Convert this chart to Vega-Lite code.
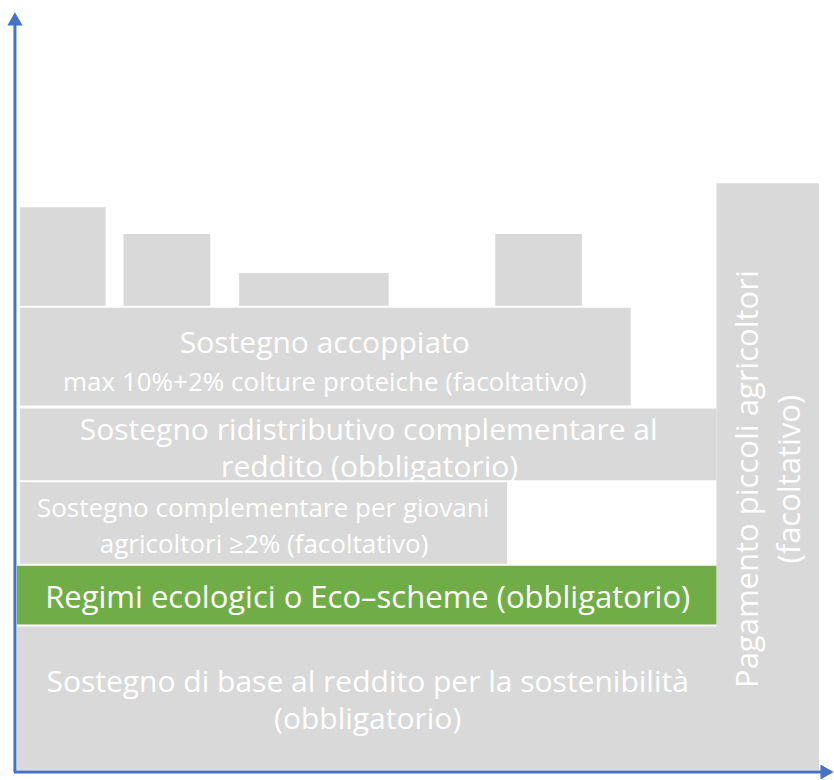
{
  "$schema": "https://vega.github.io/schema/vega-lite/v6.json",
  "width": 834,
  "height": 780,
  "padding": 0,
  "autosize": {"type": "fit", "contains": "padding"},
  "background": "white",
  "config": {"view": {"stroke": null}},
  "datasets": {
    "blocks": [
      {"name": "Barra 1", "x": 6, "x2": 92, "y": 468, "y2": 567, "kind": "grigio", "tier": 1},
      {"name": "Barra 2", "x": 110, "x2": 197, "y": 468, "y2": 540, "kind": "grigio", "tier": 1},
      {"name": "Barra 3", "x": 226, "x2": 376, "y": 468, "y2": 501, "kind": "grigio", "tier": 1},
      {"name": "Barra 4", "x": 483, "x2": 570, "y": 468, "y2": 540, "kind": "grigio", "tier": 1},
      {"name": "Sostegno accoppiato", "x": 6, "x2": 619, "y": 368, "y2": 466, "kind": "grigio", "tier": 1},
      {"name": "Sostegno ridistributivo", "x": 6, "x2": 705, "y": 293, "y2": 365, "kind": "grigio", "tier": 1},
      {"name": "Pagamento piccoli agricoltori", "x": 705, "x2": 808, "y": 2, "y2": 591, "kind": "grigio", "tier": 1},
      {"name": "Regimi ecologici", "x": 3, "x2": 705, "y": 148, "y2": 207, "kind": "verde", "tier": 1},
      {"name": "Sostegno di base", "x": 3, "x2": 706, "y": 2, "y2": 146, "kind": "grigio", "tier": 1},
      {"name": "Sostegno giovani", "x": 6, "x2": 495, "y": 209, "y2": 291, "kind": "grigio", "tier": 2}
    ],
    "labels": [
      {"label": "Sostegno accoppiato", "x": 312, "y": 430, "role": "titolo"},
      {"label": "max 10%+2% colture proteiche (facoltativo)", "x": 312, "y": 391, "role": "nota"},
      {"label": "Sostegno ridistributivo complementare al", "x": 356, "y": 342, "role": "titolo"},
      {"label": "reddito (obbligatorio)", "x": 357, "y": 305, "role": "titolo"},
      {"label": "Sostegno complementare per giovani", "x": 250, "y": 264, "role": "giovani"},
      {"label": "agricoltori ≥2% (facoltativo)", "x": 251, "y": 228, "role": "giovani"},
      {"label": "Regimi ecologici o Eco–scheme (obbligatorio)", "x": 355, "y": 174, "role": "verde"},
      {"label": "Sostegno di base al reddito per la sostenibilità", "x": 355, "y": 89, "role": "base"},
      {"label": "(obbligatorio)", "x": 355, "y": 52, "role": "base"},
      {"label": "Pagamento piccoli agricoltori", "x": 738, "y": 294, "role": "verticale"},
      {"label": "(facoltativo)", "x": 780, "y": 294, "role": "verticale"}
    ],
    "axes": [
      {"asse": "y", "x": 1, "x2": 1, "y": 0, "y2": 750},
      {"asse": "x", "x": 0, "x2": 810, "y": 0, "y2": 0}
    ],
    "arrows": [
      {"asse": "y", "x": 1, "y": 756, "dir": "su"},
      {"asse": "x", "x": 816, "y": 0, "dir": "destra"}
    ]
  },
  "layer": [
    {
      "data": {"name": "blocks"},
      "transform": [{"filter": "datum.tier == 1"}],
      "mark": {"type": "rect"},
      "encoding": {
        "x": {"field": "x", "type": "quantitative", "scale": {"domain": [-14, 820], "nice": false, "zero": false}, "axis": null},
        "x2": {"field": "x2"},
        "y": {"field": "y", "type": "quantitative", "scale": {"domain": [-5, 775], "nice": false, "zero": false}, "axis": null},
        "y2": {"field": "y2"},
        "color": {"field": "kind", "type": "nominal", "scale": {"domain": ["grigio", "verde"], "range": ["#d9d9d9", "#70ad47"]}, "legend": null}
      }
    },
    {
      "data": {"name": "labels"},
      "transform": [{"filter": "datum.role == 'titolo'"}],
      "mark": {"type": "text", "font": "Open Sans", "color": "white", "align": "center", "baseline": "middle", "fontSize": 30},
      "encoding": {
        "x": {"field": "x", "type": "quantitative"},
        "y": {"field": "y", "type": "quantitative"},
        "text": {"field": "label"}
      }
    },
    {
      "data": {"name": "labels"},
      "transform": [{"filter": "datum.role == 'nota'"}],
      "mark": {"type": "text", "font": "Open Sans", "color": "white", "align": "center", "baseline": "middle", "fontSize": 26},
      "encoding": {
        "x": {"field": "x", "type": "quantitative"},
        "y": {"field": "y", "type": "quantitative"},
        "text": {"field": "label"}
      }
    },
    {
      "data": {"name": "blocks"},
      "transform": [{"filter": "datum.tier == 2"}],
      "mark": {"type": "rect"},
      "encoding": {
        "x": {"field": "x", "type": "quantitative"},
        "x2": {"field": "x2"},
        "y": {"field": "y", "type": "quantitative"},
        "y2": {"field": "y2"},
        "color": {"field": "kind", "type": "nominal", "legend": null}
      }
    },
    {
      "data": {"name": "labels"},
      "transform": [{"filter": "datum.role == 'giovani'"}],
      "mark": {"type": "text", "font": "Open Sans", "color": "white", "align": "center", "baseline": "middle", "fontSize": 26},
      "encoding": {
        "x": {"field": "x", "type": "quantitative"},
        "y": {"field": "y", "type": "quantitative"},
        "text": {"field": "label"}
      }
    },
    {
      "data": {"name": "labels"},
      "transform": [{"filter": "datum.role == 'verde'"}],
      "mark": {"type": "text", "font": "Open Sans", "color": "white", "align": "center", "baseline": "middle", "fontSize": 31},
      "encoding": {
        "x": {"field": "x", "type": "quantitative"},
        "y": {"field": "y", "type": "quantitative"},
        "text": {"field": "label"}
      }
    },
    {
      "data": {"name": "labels"},
      "transform": [{"filter": "datum.role == 'base'"}],
      "mark": {"type": "text", "font": "Open Sans", "color": "white", "align": "center", "baseline": "middle", "fontSize": 30},
      "encoding": {
        "x": {"field": "x", "type": "quantitative"},
        "y": {"field": "y", "type": "quantitative"},
        "text": {"field": "label"}
      }
    },
    {
      "data": {"name": "labels"},
      "transform": [{"filter": "datum.role == 'verticale'"}],
      "mark": {"type": "text", "font": "Open Sans", "color": "white", "align": "center", "baseline": "middle", "angle": 270, "fontSize": 31},
      "encoding": {
        "x": {"field": "x", "type": "quantitative"},
        "y": {"field": "y", "type": "quantitative"},
        "text": {"field": "label"}
      }
    },
    {
      "data": {"name": "axes"},
      "mark": {"type": "rule", "color": "#4472c4", "strokeWidth": 3},
      "encoding": {
        "x": {"field": "x", "type": "quantitative"},
        "x2": {"field": "x2"},
        "y": {"field": "y", "type": "quantitative"},
        "y2": {"field": "y2"}
      }
    },
    {
      "data": {"name": "arrows"},
      "mark": {"type": "point", "filled": true, "color": "#4472c4", "opacity": 1, "size": 230},
      "encoding": {
        "x": {"field": "x", "type": "quantitative"},
        "y": {"field": "y", "type": "quantitative"},
        "shape": {"field": "dir", "type": "nominal", "scale": {"domain": ["su", "destra"], "range": ["triangle-up", "triangle-right"]}, "legend": null}
      }
    }
  ]
}
